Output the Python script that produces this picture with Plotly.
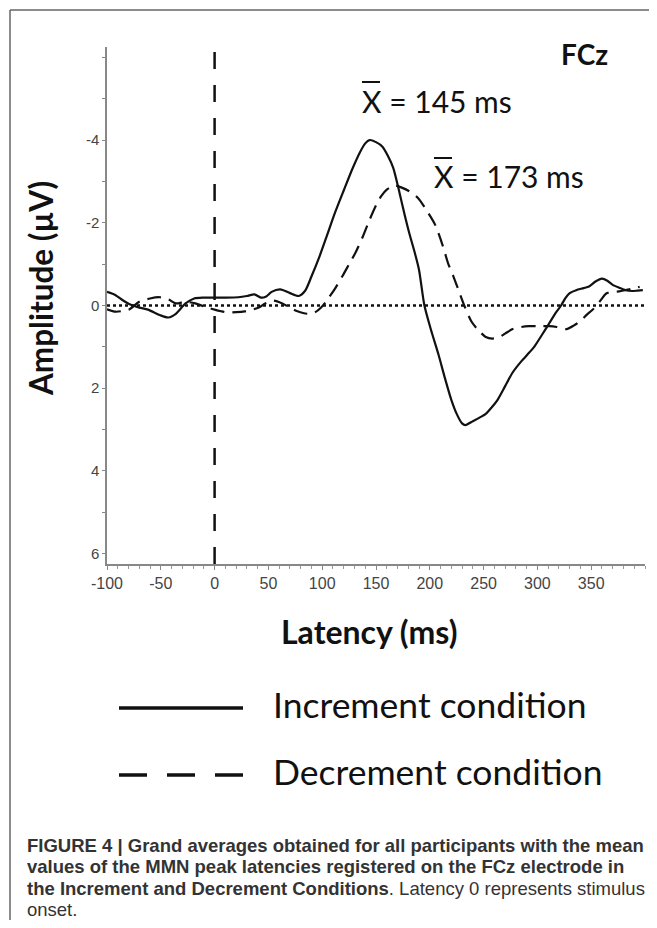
import plotly.graph_objects as go

# ---------------- data ----------------
inc_ms = [-100, -92, -85, -79, -70, -62, -51, -43, -36, -27, -19, -10, 0, 10, 22, 30, 37, 43, 48, 53,
          61, 70, 78, 84, 90, 97, 104, 112, 120, 128, 135, 140, 144, 150, 156, 161, 166, 172, 177, 181,
          186, 190, 195, 201, 208, 214, 220, 225, 230, 233, 240, 247, 252, 258, 263, 270, 277, 285, 291,
          297, 304, 311, 317, 322, 326, 330, 336, 343, 348, 354, 360, 365, 370, 376, 382, 388, 393, 398]
inc_uv = [-0.33, -0.25, -0.12, -0.03, 0.05, 0.10, 0.23, 0.29, 0.20, -0.05, -0.17, -0.19, -0.19, -0.19,
          -0.20, -0.23, -0.27, -0.19, -0.22, -0.33, -0.39, -0.30, -0.23, -0.35, -0.70, -1.15, -1.66,
          -2.25, -2.78, -3.30, -3.70, -3.92, -4.00, -3.95, -3.84, -3.62, -3.33, -2.71, -2.15, -1.74,
          -1.28, -0.86, 0.00, 0.58, 1.18, 1.75, 2.28, 2.62, 2.85, 2.89, 2.80, 2.70, 2.62, 2.45, 2.28,
          1.95, 1.62, 1.35, 1.18, 1.00, 0.72, 0.43, 0.18, 0.00, -0.18, -0.30, -0.37, -0.42, -0.46,
          -0.58, -0.65, -0.60, -0.50, -0.43, -0.37, -0.35, -0.36, -0.37]

dec_ms = [-100, -92, -85, -79, -70, -60, -51, -43, -36, -27, -18, -10, -5, 0, 6, 12, 20, 28, 35, 41,
          47, 55, 63, 70, 77, 86, 93, 99, 105, 111, 119, 125, 131, 138, 144, 150, 155, 160, 165, 168,
          174, 181, 189, 197, 205, 212, 217, 222, 227, 232, 239, 246, 252, 258, 264, 270, 277, 285,
          292, 300, 311, 318, 327, 334, 341, 346, 351, 358, 364, 370, 376, 383, 390, 395]
dec_uv = [0.09, 0.15, 0.13, 0.09, -0.09, -0.17, -0.20, -0.15, -0.05, -0.09, -0.05, 0.02, 0.06, 0.10,
          0.14, 0.17, 0.16, 0.14, 0.10, 0.05, -0.05, -0.12, -0.05, 0.05, 0.14, 0.20, 0.17, 0.05, -0.15,
          -0.37, -0.72, -1.00, -1.28, -1.68, -2.07, -2.42, -2.65, -2.80, -2.88, -2.90, -2.85, -2.76,
          -2.60, -2.30, -1.95, -1.45, -1.02, -0.70, -0.35, 0.00, 0.40, 0.62, 0.76, 0.80, 0.77, 0.68,
          0.57, 0.52, 0.50, 0.50, 0.50, 0.52, 0.57, 0.48, 0.35, 0.22, 0.11, -0.10, -0.29, -0.33, -0.34,
          -0.38, -0.42, -0.45]

baseline_ms = [-100, 400]
baseline_uv = [0, 0]
onset_ms = [0, 0]
onset_uv = [6.25, -6.2]

x_tickvals = [-100, -50, 0, 50, 100, 150, 200, 250, 300, 350]
x_ticktext = ["-100", "-50", "0", "50", "100", "150", "200", "250", "300", "350"]
y_tickvals = [-6, -5, -4, -3, -2, -1, 0, 1, 2, 3, 4, 5, 6]
y_ticktext = ["", "", "-4", "", "-2", "", "0", "", "2", "", "4", "", "6"]

series_names = ["Increment condition", "Decrement condition"]
peak_labels = ["X = 145 ms", "X = 173 ms"]
channel = "FCz"
caption_lines = [
    "<b>FIGURE 4 | Grand averages obtained for all participants with the mean</b>",
    "<b>values of the MMN peak latencies registered on the FCz electrode in</b>",
    "<b>the Increment and Decrement Conditions</b>. Latency 0 represents stimulus",
    "onset.",
]

# ---------------- figure ----------------
fig = go.Figure()

fig.add_trace(go.Scatter(x=baseline_ms, y=baseline_uv, mode="lines",
                         line=dict(color="#111", width=2.5, dash="3px,3px"), showlegend=False,
                         hoverinfo="skip"))
fig.add_trace(go.Scatter(x=onset_ms, y=onset_uv, mode="lines",
                         line=dict(color="#111", width=2.5, dash="17px,16px"), showlegend=False,
                         hoverinfo="skip"))
fig.add_trace(go.Scatter(x=inc_ms, y=inc_uv, mode="lines", name=series_names[0],
                         line=dict(color="#111", width=2.2, shape="spline", smoothing=0.7),
                         showlegend=False))
fig.add_trace(go.Scatter(x=dec_ms, y=dec_uv, mode="lines", name=series_names[1],
                         line=dict(color="#111", width=2.2, dash="14px,8px", shape="spline",
                                   smoothing=0.7),
                         showlegend=False))

OFF = 8  # page body margin
W, H = 657 - 2 * OFF, 928 - 2 * OFF
L, T = 107 - OFF, 47 - OFF
R = W - (645 - OFF)
B = H - (564 - OFF)
pw, ph = W - L - R, H - T - B


def px(x):
    return (x - OFF - L) / pw


def py(y):
    return (H - B - (y - OFF)) / ph


shapes = [
    # frame (top and left)
    dict(type="line", xref="paper", yref="paper", x0=px(10), x1=px(700), y0=py(10), y1=py(10),
         line=dict(color="#666", width=1.5)),
    dict(type="line", xref="paper", yref="paper", x0=px(10), x1=px(10), y0=py(10), y1=py(960),
         line=dict(color="#666", width=1.5)),
    # overbars of the mean symbols
    dict(type="line", xref="paper", yref="paper", x0=px(362), x1=px(380), y0=py(82), y1=py(82),
         line=dict(color="#111", width=2)),
    dict(type="line", xref="paper", yref="paper", x0=px(434), x1=px(452), y0=py(158), y1=py(158),
         line=dict(color="#111", width=2)),
    # legend samples
    dict(type="line", xref="paper", yref="paper", x0=px(119), x1=px(243), y0=py(708), y1=py(708),
         line=dict(color="#111", width=3.5)),
    dict(type="line", xref="paper", yref="paper", x0=px(119), x1=px(243), y0=py(775), y1=py(775),
         line=dict(color="#111", width=3.5, dash="28px,20px")),
]

annotations = [
    dict(text="<b>" + channel + "</b>", x=px(584), y=py(54), xref="paper", yref="paper",
         showarrow=False, font=dict(family="Lato", size=28, color="#111"),
         xanchor="center", yanchor="middle"),
    dict(text=peak_labels[0], x=px(360), y=py(101), xref="paper", yref="paper", showarrow=False,
         font=dict(family="Lato", size=30, color="#111"), xanchor="left", yanchor="middle"),
    dict(text=peak_labels[1], x=px(432), y=py(176), xref="paper", yref="paper", showarrow=False,
         font=dict(family="Lato", size=30, color="#111"), xanchor="left", yanchor="middle"),
    dict(text="<b>Amplitude (µV)</b>", x=px(41), y=py(289), xref="paper", yref="paper",
         showarrow=False, textangle=-90, font=dict(family="Lato", size=31.5, color="#111"),
         xanchor="center", yanchor="middle"),
    dict(text="<b>Latency (ms)</b>", x=px(369), y=py(631), xref="paper", yref="paper",
         showarrow=False, font=dict(family="Lato", size=32, color="#111"),
         xanchor="center", yanchor="middle"),
    dict(text=series_names[0], x=px(271), y=py(704), xref="paper", yref="paper", showarrow=False,
         font=dict(family="Lato", size=35.5, color="#111"), xanchor="left", yanchor="middle"),
    dict(text=series_names[1], x=px(271), y=py(771), xref="paper", yref="paper", showarrow=False,
         font=dict(family="Lato", size=35.5, color="#111"), xanchor="left", yanchor="middle"),
]

cap_y = [845, 866.5, 888, 909.5]
for line_txt, yy in zip(caption_lines, cap_y):
    annotations.append(dict(text=line_txt, x=px(25), y=py(yy), xref="paper", yref="paper",
                            showarrow=False, align="left",
                            font=dict(family="Liberation Sans", size=18.5, color="#333"),
                            xanchor="left", yanchor="middle"))

fig.update_layout(
    width=W, height=H,
    margin=dict(l=L, r=R, t=T, b=B, pad=0),
    paper_bgcolor="white", plot_bgcolor="white",
    showlegend=False,
    shapes=shapes,
    annotations=annotations,
    xaxis=dict(range=[-100, 400], tickmode="array", tickvals=x_tickvals, ticktext=x_ticktext,
               showline=True, linecolor="#888", linewidth=1.5, ticks="outside", ticklen=4,
               tickcolor="#888", showgrid=False, zeroline=False,
               minor=dict(tickmode="linear", tick0=0, dtick=10, ticks="outside", ticklen=3,
                          tickcolor="#999", showgrid=False),
               tickfont=dict(family="Liberation Sans", size=16, color="#444")),
    yaxis=dict(range=[6.25, -6.25], tickmode="array", tickvals=y_tickvals, ticktext=y_ticktext,
               showline=True, linecolor="#888", linewidth=1.5, ticks="outside", ticklen=3,
               tickcolor="#888", showgrid=False, zeroline=False,
               tickfont=dict(family="Liberation Sans", size=15, color="#444")),
)

fig.write_html("out.html")
